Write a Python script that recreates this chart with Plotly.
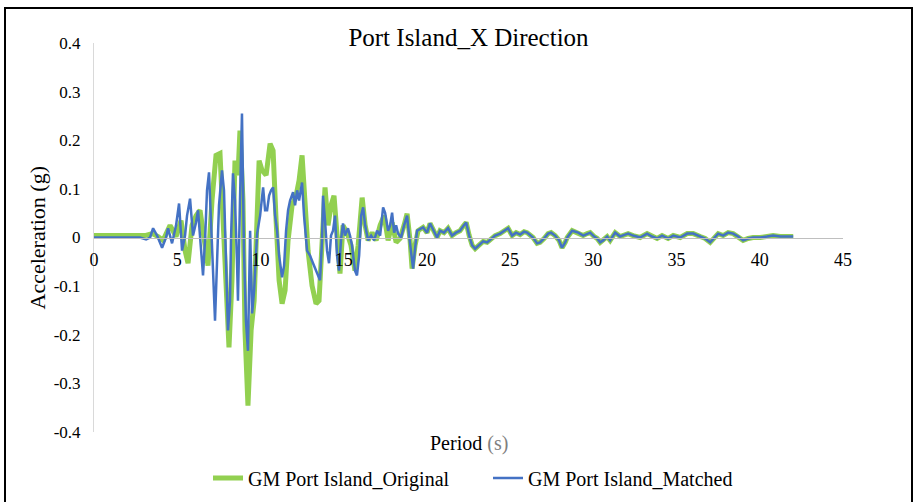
import plotly.graph_objects as go

# ---- Original record (head where it differs from matched) ----
time_orig = [0, 3.06, 3.49, 3.85, 4.15, 4.57, 4.93, 5.23, 5.47, 5.65, 5.89, 6.13, 6.37, 6.61, 6.85,
             7.09, 7.33, 7.57, 7.75, 7.93, 8.11, 8.29, 8.47, 8.65, 8.77, 8.95, 9.07, 9.25, 9.44, 9.62,
             9.74, 9.92, 10.10, 10.34, 10.58, 10.76, 10.94, 11.12, 11.30, 11.48, 11.66, 11.90, 12.14,
             12.32, 12.50, 12.68, 12.86, 13.10, 13.34, 13.52, 13.70, 13.88, 14.06, 14.24, 14.42, 14.60,
             14.78, 14.96, 15.20, 15.44, 15.68, 15.87, 16.11, 16.29, 16.47, 16.71, 16.95, 17.19, 17.43,
             17.67, 17.91, 18.15, 18.39, 18.63, 18.81, 18.99, 19.11, 19.29, 19.47]
acc_orig = [0.004, 0.004, 0.008, 0.002, -0.006, 0.025, 0.002, 0.035, -0.027, -0.053, 0.025, 0.045, 0.056, -0.006, -0.058,
            0.076, 0.169, 0.173, 0.035, -0.130, -0.226, -0.088, 0.158, 0.128, 0.220, 0.076, -0.191, -0.346, -0.191, -0.130,
            0.014, 0.158, 0.138, 0.128, 0.193, 0.179, 0.035, -0.088, -0.136, -0.109, -0.006, 0.066, 0.086,
            0.117, 0.169, 0.066, -0.027, -0.099, -0.136, -0.130, 0.014, 0.103, 0.025, 0.066, 0.086, -0.006,
            -0.074, 0.025, 0.010, -0.016, -0.068, -0.016, 0.082, 0.025, -0.006, 0.010, -0.006, 0.025, 0.045,
            -0.006, 0.031, -0.010, -0.002, 0.025, 0.049, -0.006, -0.064, -0.016, 0.014]

# ---- Matched record (head) ----
time_match = [0, 2.76, 3.13, 3.37, 3.55, 3.79, 4.09, 4.33, 4.45, 4.69, 4.93, 5.11, 5.29, 5.47, 5.59, 5.77,
              5.95, 6.13, 6.25, 6.43, 6.55, 6.67, 6.79, 6.91, 7.03, 7.15, 7.27, 7.39, 7.51, 7.69, 7.81,
              7.93, 8.05, 8.17, 8.23, 8.35, 8.47, 8.59, 8.65, 8.77, 8.89, 9.01, 9.13, 9.25, 9.38, 9.50,
              9.62, 9.80, 9.98, 10.16, 10.28, 10.40, 10.52, 10.64, 10.76, 10.88, 11.00, 11.12, 11.30,
              11.42, 11.54, 11.66, 11.78, 11.96, 12.08, 12.20, 12.32, 12.50, 12.62, 12.80, 12.98, 13.16,
              13.34, 13.46, 13.58, 13.70, 13.76, 13.88, 14.00, 14.12, 14.24, 14.36, 14.48, 14.60, 14.72,
              14.84, 14.96, 15.08, 15.26, 15.38, 15.50, 15.68, 15.80, 15.93, 16.05, 16.17, 16.29, 16.47,
              16.65, 16.83, 17.01, 17.19, 17.37, 17.49, 17.67, 17.79, 17.91, 18.03, 18.15, 18.27, 18.45,
              18.63, 18.81, 18.93, 19.05, 19.17, 19.29, 19.41]
acc_match = [0, 0, -0.004, 0, 0.019, 0.004, -0.021, 0, 0.019, -0.012, 0.025, 0.070, -0.027, 0.004, 0.045, 0.080,
             0.004, 0.031, 0.056, -0.027, -0.078, -0.006, 0.097, 0.134, 0.014, -0.068, -0.171, -0.047, 0.066, 0.138, 0.097,
             -0.047, -0.191, -0.130, -0.006, 0.132, 0.076, -0.047, -0.130, 0.076, 0.255, -0.027, -0.171, -0.233, 0.014, -0.156,
             -0.109, 0.008, 0.045, 0.103, 0.056, 0.056, 0.086, 0.097, 0.103, 0.045, 0.014, -0.037, -0.082,
             -0.058, 0.014, 0.056, 0.076, 0.093, 0.066, 0.097, 0.076, 0.113, 0.045, -0.027, -0.037, -0.053,
             -0.068, -0.078, -0.088, -0.006, 0.086, 0.035, -0.027, -0.053, 0.004, 0.014, 0.045, -0.037, -0.068,
             -0.006, 0.029, 0.004, 0.019, 0.004, -0.016, -0.068, -0.078, -0.037, 0.045, 0.062, 0.025, -0.006,
             0.004, -0.006, 0.014, 0.004, 0.062, 0.051, 0.014, 0.025, 0.051, 0.010, 0.025, 0.008, 0,
             0.025, 0.045, 0.004, -0.037, -0.064, -0.023, 0.014]

# ---- Tail where both records coincide ----
time_tail = [19.77, 20.01, 20.19, 20.43, 20.61, 20.79, 21.03, 21.27, 21.51, 21.75, 21.99, 22.18, 22.36, 22.54,
             22.72, 22.90, 23.14, 23.38, 23.62, 23.86, 24.10, 24.40, 24.70, 24.88, 25.12, 25.36, 25.60, 25.84,
             26.02, 26.38, 26.62, 26.80, 27.04, 27.28, 27.46, 27.70, 27.94, 28.12, 28.31, 28.43, 28.73, 29.09,
             29.39, 29.63, 29.81, 30.05, 30.23, 30.41, 30.59, 30.83, 31.01, 31.31, 31.61, 31.91, 32.09, 32.39,
             32.81, 33.23, 33.53, 33.83, 34.13, 34.49, 34.80, 35.22, 35.64, 36.00, 36.42, 36.72, 37.02, 37.32,
             37.50, 37.80, 38.10, 38.40, 38.70, 39.00, 39.30, 39.60, 40.02, 40.44, 40.80, 41.23, 41.65, 42.01]
acc_tail = [0.021, 0.010, 0.029, 0.014, 0, 0.014, 0.010, 0.019, 0.004, 0.010, 0.014, 0.023, 0.031, 0.004,
            -0.016, -0.023, -0.016, -0.008, -0.010, -0.002, 0.004, 0.008, 0.014, 0.019, 0.004, 0.010, 0.006, 0.012,
            0.010, 0, -0.012, -0.010, -0.002, 0.008, 0.010, 0.004, -0.006, -0.021, -0.010, 0, 0.014, 0.010,
            0.004, 0.008, 0.010, 0.002, -0.002, -0.010, -0.006, 0.002, -0.006, 0.010, 0.002, 0.006, 0.008, 0.004,
            0, 0.008, 0.002, -0.002, 0.004, -0.002, 0.004, 0, 0.008, 0.008, 0.002, -0.002, -0.010, 0,
            0.008, 0.004, 0.010, 0.008, 0.002, -0.006, -0.002, 0, 0, 0.002, 0.004, 0.002, 0.002, 0.002]

x_ticks = [0, 5, 10, 15, 20, 25, 30, 35, 40, 45]
x_tick_labels = ["0", "5", "10", "15", "20", "25", "30", "35", "40", "45"]
y_ticks = [-0.4, -0.3, -0.2, -0.1, 0, 0.1, 0.2, 0.3, 0.4]
y_tick_labels = ["-0.4", "-0.3", "-0.2", "-0.1", "0", "0.1", "0.2", "0.3", "0.4"]

series_names = ["GM Port Island_Original", "GM Port Island_Matched"]
title_text = "Port Island_X Direction"

FONT = "Liberation Serif"

fig = go.Figure()
fig.add_trace(go.Scatter(x=time_orig + time_tail, y=acc_orig + acc_tail, mode="lines",
                         name=series_names[0], line=dict(color="#92D050", width=5)))
fig.add_trace(go.Scatter(x=time_match + time_tail, y=acc_match + acc_tail, mode="lines",
                         name=series_names[1], line=dict(color="#4472C4", width=2.5)))

fig.update_layout(
    width=917, height=502,
    margin=dict(l=94, r=74, t=43, b=70, autoexpand=False),
    paper_bgcolor="white", plot_bgcolor="white",
    font=dict(family=FONT, color="black", size=17),
    title=dict(text=title_text, x=0.5, xref="paper", y=1 - 37 / 502, yref="container",
               xanchor="center", yanchor="middle", font=dict(family=FONT, size=25, color="black")),
    showlegend=True,
    legend=dict(orientation="h", x=(208 - 94) / 749, xanchor="left", y=(432 - 478) / 389, yanchor="middle",
                entrywidth=235, font=dict(family=FONT, size=20, color="black"), bgcolor="rgba(0,0,0,0)"),
    xaxis=dict(range=[0, 45], tickvals=x_ticks, ticktext=x_tick_labels, showgrid=False, zeroline=False,
               showline=True, linecolor="#BFBFBF", linewidth=1, anchor="free", position=0.5,
               ticks="", ticklabelstandoff=6, tickfont=dict(family=FONT, size=18, color="black")),
    yaxis=dict(range=[-0.4, 0.4], tickvals=y_ticks, ticktext=y_tick_labels, showgrid=False, zeroline=False,
               showline=True, linecolor="#D9D9D9", linewidth=1, ticks="", ticklabelstandoff=9,
               tickfont=dict(family=FONT, size=17, color="black")),
    annotations=[
        dict(text="Acceleration (g)", x=(37 - 94) / 749, y=0.5, xref="paper", yref="paper",
             textangle=-90, showarrow=False, xanchor="center", yanchor="middle",
             font=dict(family=FONT, size=22, color="black")),
        dict(text="Period <span style='color:#7F7F7F'>(s)</span>", x=0.5, y=(432 - 443) / 389,
             xref="paper", yref="paper", showarrow=False, xanchor="center", yanchor="middle",
             font=dict(family=FONT, size=20, color="black")),
    ],
    shapes=[dict(type="rect", xref="paper", yref="paper", x0=(5 - 94) / 749, x1=(912 - 94) / 749,
                 y0=-0.25, y1=(432 - 8) / 389, line=dict(color="black", width=2), fillcolor="rgba(0,0,0,0)")],
)

fig.write_html("out.html", config={"displayModeBar": False},
               post_script="document.body.style.margin='0px';")
